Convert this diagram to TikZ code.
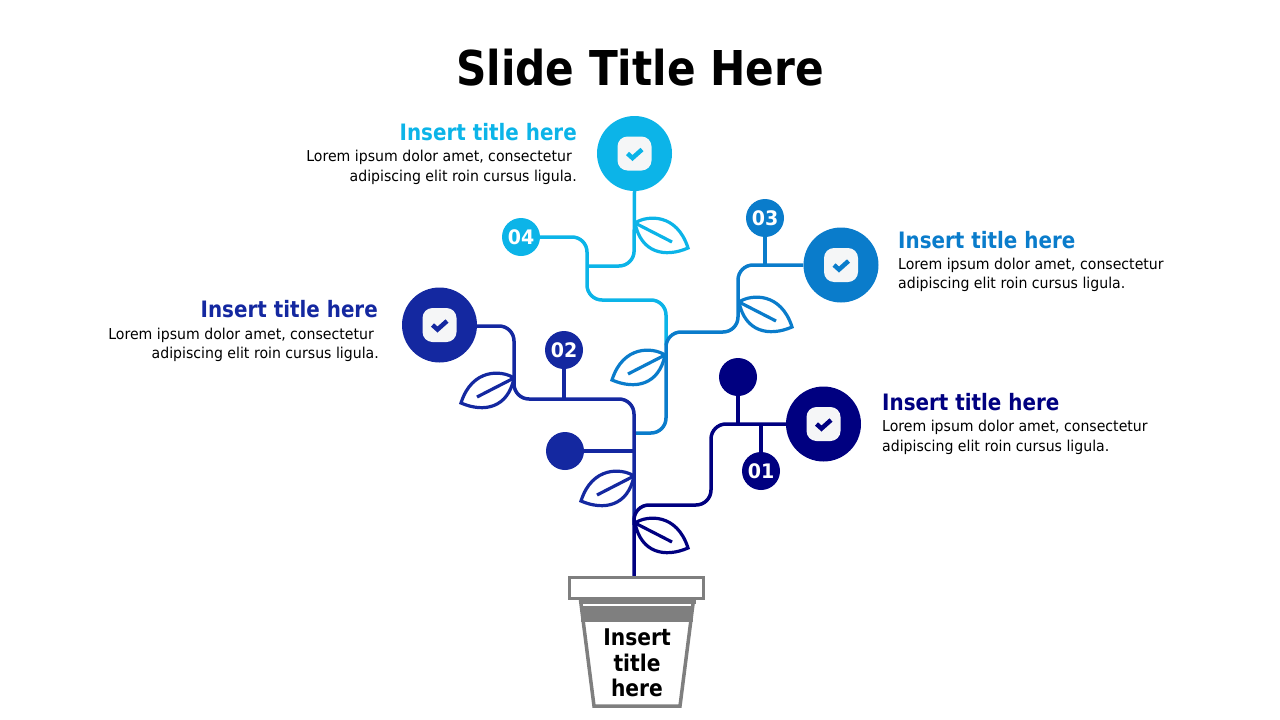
\documentclass[tikz,border=0pt]{standalone}
\usepackage{fontspec}
\setmainfont{DejaVu Sans}[FakeStretch=0.88]
\newfontfamily\numfont{DejaVu Sans}[FakeStretch=0.95]
\newfontfamily\bodyfont{DejaVu Sans}[FakeStretch=0.94]
\definecolor{cA}{HTML}{000080}
\definecolor{cB}{HTML}{1428A0}
\definecolor{cC}{HTML}{0A7CCB}
\definecolor{cD}{HTML}{0CB4E8}
\definecolor{potgray}{HTML}{7F7F7F}
\definecolor{iconbg}{HTML}{F5F6F7}
\tikzset{
  stem/.style={line width=3.5pt,rounded corners=15pt},
  twig/.style={line width=3.5pt},
  main/.style={circle,minimum size=75pt,inner sep=0pt,fill=#1},
  small/.style={circle,minimum size=38pt,inner sep=0pt,fill=#1,text=white,font=\numfont\bfseries\fontsize{20}{20}\selectfont},
  htitle/.style={inner sep=0pt,font=\bfseries\fontsize{22.6}{22.6}\selectfont},
  hbody/.style={inner sep=0pt,font=\bodyfont\fontsize{15}{15}\selectfont,text=black},
  pottext/.style={inner sep=0pt,anchor=base,font=\bfseries\fontsize{23}{23}\selectfont},
}
\newcommand{\leafshape}[4]{% base x, base y, xscale, colour
  \begin{scope}[shift={(#1,#2)},xscale=#3]
    \draw[#4,line width=3.2pt,line join=miter]
      (0,0) .. controls (12,-8) and (42,-10) .. (53,25)
      .. controls (30,35) and (6,30) .. (0,0) -- cycle;
    \draw[#4,line width=3.2pt] (0,0) -- (37,19);
  \end{scope}}
\newcommand{\checkicon}[2]{% centre node, colour
  \begin{scope}[shift={(#1)}]
    \fill[iconbg,rounded corners=10pt] (-17,-17) rectangle (17,17);
    \draw[#2,line width=4.5pt] (-7,0) -- (-2,4.5) -- (7.5,-4);
  \end{scope}}
\begin{document}
\begin{tikzpicture}[x=1pt,y=-1pt]
\useasboundingbox (0,0) rectangle (1280,720);
\node[inner sep=0pt,anchor=base,font=\bfseries\fontsize{48}{48}\selectfont] (title) at (640,85) {Slide Title Here};

% coordinates
\coordinate (potTop) at (634,577);
\coordinate (j3) at (634,433);
\coordinate (j4) at (666,345);
\coordinate (j4b) at (587,266);
\coordinate (j2low) at (634,525);

% nodes
\node[main=cA] (m1) at (823.5,424) {};
\node[main=cB] (m2) at (439.5,325) {};
\node[main=cC] (m3) at (841,265) {};
\node[main=cD] (m4) at (634.5,153.5) {};
\node[small=cA] (n1) at (761,471) {01};
\node[small=cB] (n2) at (564,350) {02};
\node[small=cC] (n3) at (765,218) {03};
\node[small=cD] (n4) at (521,237) {04};
\node[small=cA] (d1) at (738,377) {};
\node[small=cB] (d2) at (565,451) {};

% cyan
\draw[stem,cD] (j4) -- (666,300) -- (587,300) -- (587,237) -- (n4.east);
\draw[stem,cD] (j4b) -- (634,266) -- (m4.south);
% blue
\draw[stem,cC] (j3) -- (666,433) -- (666,332) -- (738,332) -- (738,265) -- (m3.west);
\draw[twig,cC] (n3.south) -- (765,265);
% dark blue
\draw[stem,cB] (j2low) -- (634,399) -- (514,399) -- (514,326) -- (m2.east |- 0,326);
\draw[twig,cB] (n2.south) -- (564,399);
\draw[twig,cB] (d2.east) -- (634,451);
% navy
\draw[stem,cA] (potTop) -- (634,505) -- (711,505) -- (711,424) -- (m1.west);
\draw[twig,cA] (d1.south) -- (738,424);
\draw[twig,cA] (n1.north) -- (761,424);

% leaves
\leafshape{635}{223}{1}{cD}
\leafshape{739}{302}{1}{cC}
\leafshape{665}{355}{-1}{cC}
\leafshape{514}{378}{-1}{cB}
\leafshape{634}{476}{-1}{cB}
\leafshape{635}{523}{1}{cA}

% icons
\checkicon{m1}{cA}
\checkicon{m2}{cB}
\checkicon{m3}{cC}
\checkicon{m4}{cD}

% pot
\draw[potgray,line width=3.5pt,fill=white] (569.5,577.5) rectangle (703.5,598.5);
\fill[potgray] (578.5,600) rectangle (695.5,604);
\fill[potgray] (581,605.5) rectangle (693,622);
\draw[potgray,line width=3.5pt] (580.5,600) -- (594,706) -- (680,706) -- (693.5,600);
\node[pottext] (p1) at (637,645) {Insert};
\node[pottext] (p2) at (637,671) {title};
\node[pottext] (p3) at (637,696) {here};

% text 04
\node[htitle,text=cD,anchor=base east] (t4) at (577,140) {Insert title here};
\node[hbody,anchor=base east] (b4a) at (572,161) {Lorem ipsum dolor amet, consectetur};
\node[hbody,anchor=base east] (b4b) at (577,181) {adipiscing elit roin cursus ligula.};
% text 03
\node[htitle,text=cC,anchor=base west] (t3) at (898,248) {Insert title here};
\node[hbody,anchor=base west] (b3a) at (898,269) {Lorem ipsum dolor amet, consectetur};
\node[hbody,anchor=base west] (b3b) at (898,288) {adipiscing elit roin cursus ligula.};
% text 02
\node[htitle,text=cB,anchor=base east] (t2) at (378,317) {Insert title here};
\node[hbody,anchor=base east] (b2a) at (374,339) {Lorem ipsum dolor amet, consectetur};
\node[hbody,anchor=base east] (b2b) at (379,358) {adipiscing elit roin cursus ligula.};
% text 01
\node[htitle,text=cA,anchor=base west] (t1) at (882,410) {Insert title here};
\node[hbody,anchor=base west] (b1a) at (882,431) {Lorem ipsum dolor amet, consectetur};
\node[hbody,anchor=base west] (b1b) at (882,451) {adipiscing elit roin cursus ligula.};
\end{tikzpicture}
\end{document}
